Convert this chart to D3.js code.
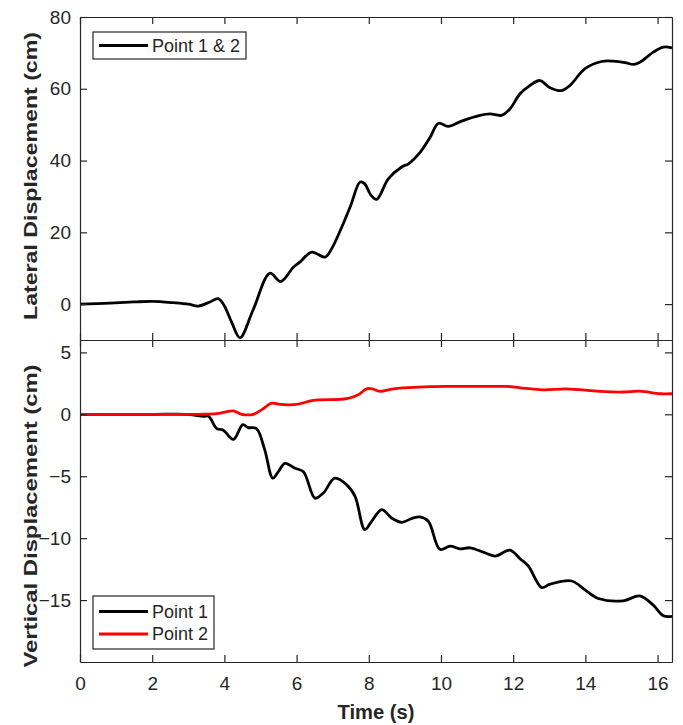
<!DOCTYPE html>
<html>
<head>
<meta charset="utf-8">
<script src="https://cdn.jsdelivr.net/npm/d3@7"></script>
<style>
  body { margin: 0; background: #fff; }
  svg { display: block; }
  text { font-family: "Liberation Sans", Arial, sans-serif; fill: #262626; }
</style>
</head>
<body>
<svg id="chart" width="683" height="725"></svg>
<script>
// lateral displacement, points 1 & 2 share the same trace
const latTime = [0, 0.83, 1.5, 2.0, 2.59, 3.0, 3.28, 3.6, 3.83, 4.0, 4.2, 4.43, 4.8, 5.26, 5.56,
  5.91, 6.09, 6.42, 6.79, 6.97, 7.25, 7.5, 7.76, 7.89, 8.05, 8.22, 8.54, 8.91, 9.1, 9.42, 9.7, 9.93,
  10.2, 10.57, 11.08, 11.36, 11.68, 11.91, 12.19, 12.45, 12.74, 13.02, 13.34, 13.57, 13.99, 14.45,
  14.77, 15.1, 15.33, 15.51, 15.88, 16.16, 16.4];
const latValue = [0, 0.28, 0.6, 0.75, 0.39, 0, -0.55, 0.6, 1.5, -0.5, -5, -9.4, -1.5, 8.6, 6.3,
  10.3, 11.7, 14.5, 13.1, 15.4, 21.4, 27.5, 34.0, 33.5, 30.5, 29.2, 34.9, 38.2, 39.1, 42.3, 46.5, 50.4,
  49.5, 51, 52.6, 53, 52.6, 54.4, 58.6, 60.8, 62.3, 60.3, 59.5, 60.9, 65.6, 67.6,
  67.7, 67.3, 66.8, 67.4, 70.2, 71.6, 71.4];

// vertical displacement
const p1Time = [0, 1, 2, 3, 3.42, 3.56, 3.79, 3.97, 4.25, 4.51, 4.66, 4.89, 5.12, 5.34, 5.5, 5.68,
  5.96, 6.19, 6.51, 6.74, 7.06, 7.39, 7.62, 7.89, 8.08, 8.36, 8.63, 8.91, 9.2, 9.42, 9.65, 9.97,
  10.25, 10.53, 10.8, 11.17, 11.5, 11.91, 12.19, 12.42, 12.79, 13.02, 13.62, 14.0, 14.36, 15.05,
  15.51, 15.88, 16.16, 16.4];
const p1Value = [0, 0, 0, 0, -0.16, -0.16, -1.15, -1.28, -2.03, -0.83, -1.07, -1.15, -2.89, -5.16, -4.6, -3.96,
  -4.36, -4.63, -6.77, -6.36, -5.16, -5.7, -6.63, -9.31, -8.64, -7.7, -8.37, -8.72, -8.4, -8.29, -8.64, -10.9,
  -10.65, -10.86, -10.78, -11.13, -11.45, -10.97, -11.66, -12.25, -13.99, -13.72, -13.46, -14.2, -14.87, -15.06,
  -14.66, -15.41, -16.27, -16.32];

const p2Time = [0, 1, 2, 3, 3.32, 3.79, 4.05, 4.25, 4.48, 4.8, 5.05, 5.31, 5.54, 6.0, 6.46, 7.39,
  7.71, 7.94, 8.1, 8.31, 8.68, 9.4, 10.16, 11.0, 11.82, 12.19, 12.83, 13.48, 14.4, 15.05, 15.51,
  16.07, 16.4];
const p2Value = [0, 0, 0, 0, 0, 0.05, 0.2, 0.27, 0, 0, 0.4, 0.9, 0.8, 0.8, 1.12, 1.26,
  1.58, 2.06, 2.05, 1.85, 2.06, 2.2, 2.25, 2.25, 2.25, 2.14, 1.98, 2.06, 1.85, 1.8, 1.87,
  1.66, 1.66];

const timeTicks = [0, 2, 4, 6, 8, 10, 12, 14, 16];
const latTicks = [0, 20, 40, 60, 80];
const vertTicks = [-15, -10, -5, 0, 5];

const axisColor = '#262626';
const left = 80, right = 672;
const top1 = 17, bot1 = 340, top2 = 340, bot2 = 662;

const svg = d3.select('#chart');

const x = d3.scaleLinear().domain([0, 16.4]).range([left, right]);
const yLat = d3.scaleLinear().domain([-10, 80]).range([bot1, top1]);
const yVert = d3.scaleLinear().domain([-20, 6]).range([bot2, top2]);

function zip(t, v) { return t.map(function(d, i) { return [d, v[i]]; }); }

function styleAxis(g) {
  g.selectAll('path, line').attr('stroke', axisColor).attr('stroke-width', 1.2);
  g.selectAll('text').attr('fill', axisColor).style('font-size', '19px')
    .style('font-family', '"Liberation Sans", Arial, sans-serif');
}

function frame(y, yTop, yBot, ticks, showX) {
  // bottom
  svg.append('g').attr('transform', 'translate(0,' + yBot + ')')
    .call(d3.axisBottom(x).tickValues(timeTicks).tickSizeInner(-7).tickSizeOuter(0).tickPadding(15)
      .tickFormat(showX ? d3.format('d') : ''))
    .call(styleAxis);
  // top
  svg.append('g').attr('transform', 'translate(0,' + yTop + ')')
    .call(d3.axisTop(x).tickValues(timeTicks).tickSizeInner(-7).tickSizeOuter(0).tickFormat(''))
    .call(styleAxis);
  // left
  svg.append('g').attr('transform', 'translate(' + left + ',0)')
    .call(d3.axisLeft(y).tickValues(ticks).tickSizeInner(-7).tickSizeOuter(0).tickPadding(9))
    .call(styleAxis);
  // right
  svg.append('g').attr('transform', 'translate(' + right + ',0)')
    .call(d3.axisRight(y).tickValues(ticks).tickSizeInner(-7).tickSizeOuter(0).tickFormat(''))
    .call(styleAxis);
}

function drawLine(y, data, color) {
  const line = d3.line()
    .x(function(d) { return x(d[0]); })
    .y(function(d) { return y(d[1]); })
    .curve(d3.curveCatmullRom.alpha(0.5));
  svg.append('path').datum(data)
    .attr('fill', 'none')
    .attr('stroke', color)
    .attr('stroke-width', 2.8)
    .attr('stroke-linejoin', 'round')
    .attr('d', line);
}

// lines first, frames on top
drawLine(yLat, zip(latTime, latValue), '#000');
drawLine(yVert, zip(p1Time, p1Value), '#000');
drawLine(yVert, zip(p2Time, p2Value), '#ff0000');

frame(yLat, top1, bot1, latTicks, false);
frame(yVert, top2, bot2, vertTicks, true);

// axis titles
svg.append('text')
  .attr('transform', 'translate(37,176) rotate(-90)')
  .attr('text-anchor', 'middle')
  .attr('textLength', 288).attr('lengthAdjust', 'spacingAndGlyphs')
  .style('font-size', '19px').style('font-weight', 'bold')
  .text('Lateral Displacement (cm)');

svg.append('text')
  .attr('transform', 'translate(37,516) rotate(-90)')
  .attr('text-anchor', 'middle')
  .attr('textLength', 303).attr('lengthAdjust', 'spacingAndGlyphs')
  .style('font-size', '19px').style('font-weight', 'bold')
  .text('Vertical Displacement (cm)');

svg.append('text')
  .attr('x', (left + right) / 2).attr('y', 719)
  .attr('text-anchor', 'middle')
  .attr('textLength', 77).attr('lengthAdjust', 'spacingAndGlyphs')
  .style('font-size', '20px').style('font-weight', 'bold')
  .text('Time (s)');

// legends
function legend(x0, y0, w, h, items) {
  const g = svg.append('g');
  g.append('rect').attr('x', x0).attr('y', y0).attr('width', w).attr('height', h)
    .attr('fill', '#fff').attr('stroke', axisColor).attr('stroke-width', 1.2);
  items.forEach(function(it, i) {
    const yy = y0 + it.dy;
    g.append('line').attr('x1', x0 + 6).attr('x2', x0 + 55).attr('y1', yy).attr('y2', yy)
      .attr('stroke', it.color).attr('stroke-width', 3);
    g.append('text').attr('x', x0 + 59).attr('y', yy).attr('dy', '0.35em')
      .style('font-size', '18px').text(it.label);
  });
}

legend(93, 32, 153, 27, [{label: 'Point 1 & 2', color: '#000', dy: 13.5}]);
legend(93, 596, 121, 53, [
  {label: 'Point 1', color: '#000', dy: 15.5},
  {label: 'Point 2', color: '#ff0000', dy: 38}
]);
</script>
</body>
</html>
